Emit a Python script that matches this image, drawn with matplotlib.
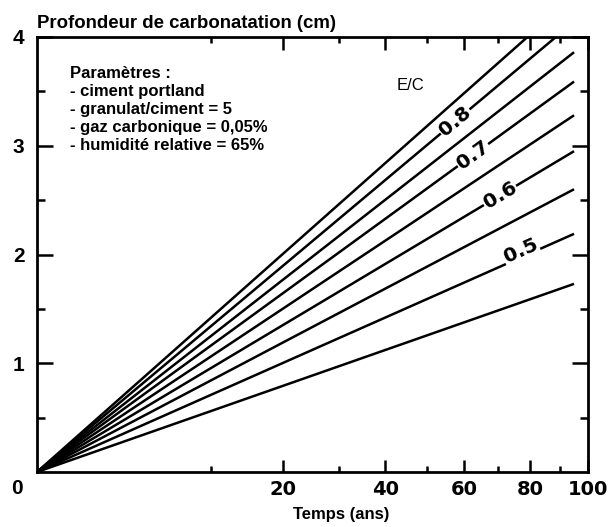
import numpy as np
import matplotlib
matplotlib.use("Agg")
import matplotlib.pyplot as plt
from matplotlib.ticker import FixedLocator, NullFormatter

# ---- data ----
ec_ratios = [0.45, 0.50, 0.55, 0.60, 0.65, 0.70, 0.75, 0.80, 0.85]
t_end = 95  # years, end of every curve
depth_end = [1.73, 2.19, 2.60, 2.95, 3.28, 3.59, 3.86, 4.14, 4.38]  # cm at t_end
curve_labels = {0.50: "0.5", 0.60: "0.6", 0.70: "0.7", 0.80: "0.8"}
x_major = [20, 40, 60, 80, 100]
x_minor = [10, 30, 50, 70, 90]
y_major = [1, 2, 3, 4]
y_minor = [0.5, 1.5, 2.5, 3.5]
params = ["Paramètres :", "- ciment portland", "- granulat/ciment = 5",
          "- gaz carbonique = 0,05%", "- humidité relative = 65%"]

# ---- layout / style ----
label_t = {0.50: 77, 0.60: 70.6, 0.70: 62.6, 0.80: 57.6}
label_dy = {0.50: 5, 0.60: 0, 0.70: 0, 0.80: 0}
W, H = 615, 527
FONT = "Liberation Sans"

fig = plt.figure(figsize=(W / 100, H / 100), dpi=100)
L, R, T, B = 37, 588, 37, 472
ax = fig.add_axes([L / W, 1 - B / H, (R - L) / W, (B - T) / H])
ax.set_xscale("function", functions=(lambda x: np.sqrt(np.clip(x, 0, None)),
                                     lambda x: np.square(x)))
ax.set_xlim(0, 100)
ax.set_ylim(0, 4)

for ec, d in zip(ec_ratios, depth_end):
    ax.plot([0, t_end], [0, d], color="black", lw=1.8, solid_capstyle="butt")

for ec, d in zip(ec_ratios, depth_end):
    key = round(ec, 2)
    if key in curve_labels:
        p0 = ax.transData.transform((0, 0))
        p1 = ax.transData.transform((t_end, d))
        ang = np.degrees(np.arctan2(p1[1] - p0[1], p1[0] - p0[0]))
        t = label_t[key]
        y = d * np.sqrt(t / t_end)
        ax.annotate(curve_labels[key], (t, y), xytext=(0, label_dy[key]),
                    textcoords="offset points", rotation=ang,
                    rotation_mode="anchor", ha="center", va="center",
                    fontsize=14.5, fontweight="bold", family="DejaVu Sans",
                    bbox=dict(boxstyle="square,pad=0.05", fc="white", ec="none"))

for s in ax.spines.values():
    s.set_linewidth(2.0)

ax.xaxis.set_major_locator(FixedLocator(x_major))
ax.xaxis.set_minor_locator(FixedLocator(x_minor))
ax.xaxis.set_minor_formatter(NullFormatter())
ax.set_xticklabels([str(v) for v in x_major], fontsize=14, fontweight="bold",
                   family="DejaVu Sans")
ax.yaxis.set_major_locator(FixedLocator(y_major))
ax.yaxis.set_minor_locator(FixedLocator(y_minor))
ax.yaxis.set_minor_formatter(NullFormatter())
ax.set_yticklabels([str(v) for v in y_major], fontsize=15, fontweight="bold",
                   family=FONT)

ax.tick_params(axis="x", which="both", direction="in", top=True, bottom=True,
               width=1.8, pad=6)
ax.tick_params(axis="x", which="major", length=9)
ax.tick_params(axis="x", which="minor", length=4)
ax.tick_params(axis="y", which="both", direction="in", left=True, right=True,
               width=1.8, pad=9)
ax.tick_params(axis="y", which="major", length=11.5)
ax.tick_params(axis="y", which="minor", length=6)

# corner "0"
fig.text(17 / W, 1 - 488 / H, "0", fontsize=15, fontweight="bold", family=FONT,
         ha="center", va="center")

# titles
fig.text(37 / W, 1 - 24 / H, "Profondeur de carbonatation (cm)", fontsize=13.4,
         fontweight="bold", family=FONT, ha="left", va="center")
fig.text(341 / W, 1 - 515 / H, "Temps (ans)", fontsize=12, fontweight="bold",
         family=FONT, ha="center", va="center")

# parameter block
fig.text(70 / W, 1 - 66 / H, "\n".join(params), fontsize=12, fontweight="bold",
         family=FONT, ha="left", va="top", linespacing=1.25)
fig.text(410 / W, 1 - 85 / H, "E/C", fontsize=12, family=FONT,
         ha="center", va="center")

fig.savefig("out.png", dpi=100)
